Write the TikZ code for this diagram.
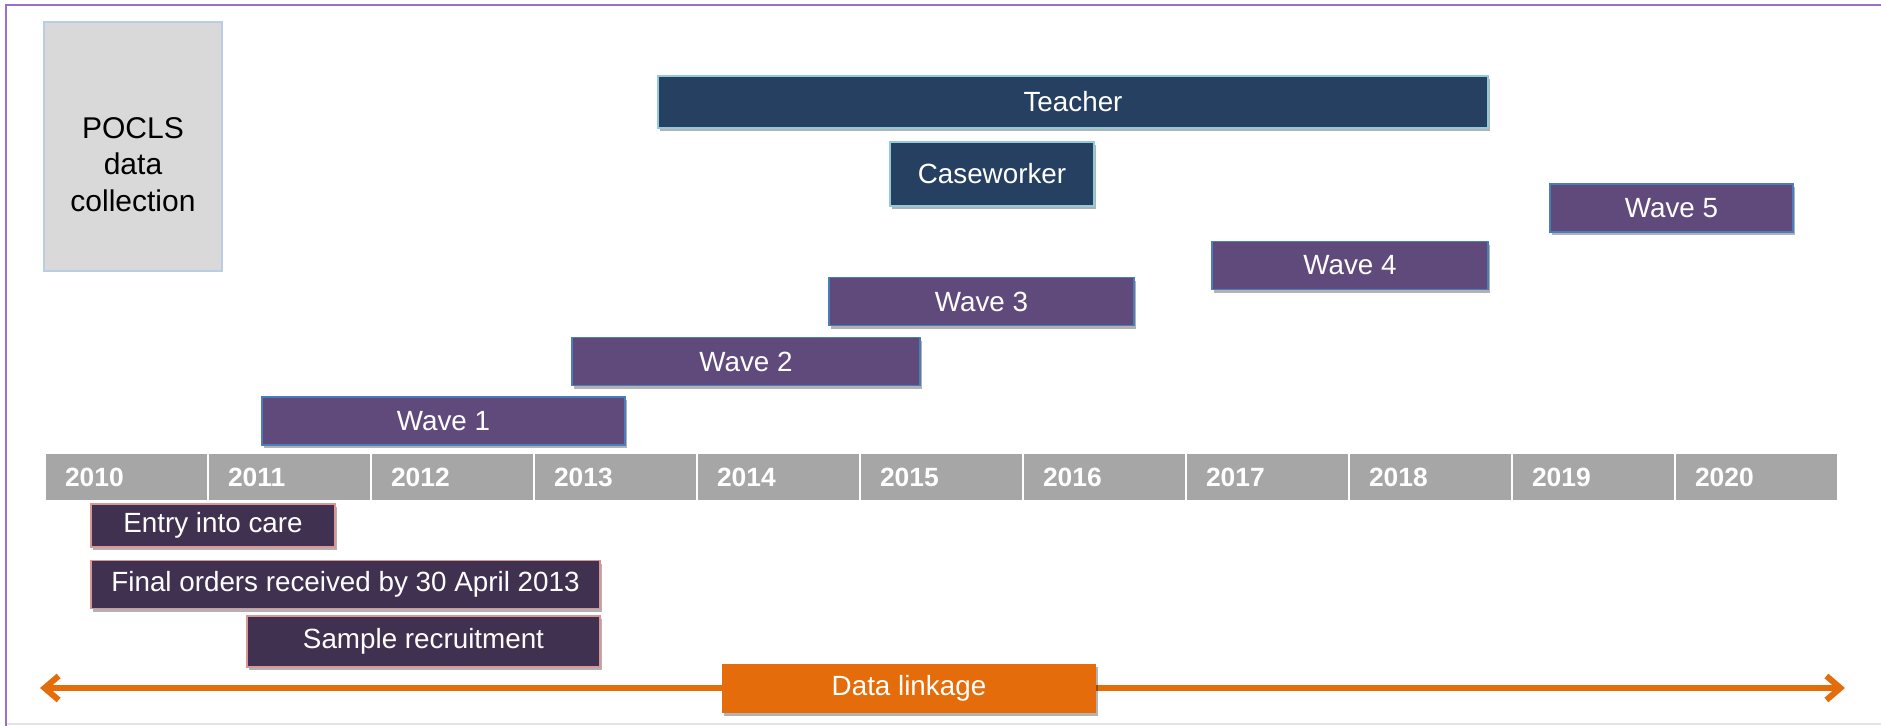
\documentclass[tikz,border=0pt]{standalone}
\usepackage{fontspec}
\setmainfont{Liberation Sans}
\usepackage{tikz}
\usetikzlibrary{positioning, arrows.meta, shadows}

\definecolor{framepurple}{HTML}{9B6FC8}
\definecolor{framelav}{HTML}{E4E2EE}
\definecolor{poclsgrey}{HTML}{D9D9D9}
\definecolor{poclsedge}{HTML}{B9CDE5}
\definecolor{staffnavy}{HTML}{254061}
\definecolor{staffedge}{HTML}{8FCADD}
\definecolor{wavepurple}{HTML}{604A7B}
\definecolor{waveedge}{HTML}{4A7EBB}
\definecolor{yeargrey}{HTML}{A6A6A6}
\definecolor{carepurple}{HTML}{403151}
\definecolor{careedge}{HTML}{D99694}
\definecolor{linkorange}{HTML}{E46C0A}

\begin{document}
\begin{tikzpicture}[
    x=0.5pt, y=-0.5pt,
    boxfont/.style = {font=\fontsize{13.9}{16}\selectfont},
    shade/.style = {drop shadow={shadow xshift=0.8pt, shadow yshift=-1.6pt,
                    fill=black, opacity=0.3}},
    staff/.style = {boxfont, shade, fill=staffnavy, draw=staffedge, line width=0.9pt,
                    text=white, inner sep=0pt, minimum height=#1},
    staff/.default = 26pt,
    wave/.style = {boxfont, shade, fill=wavepurple, draw=waveedge, line width=0.8pt,
                   text=white, inner sep=0pt, minimum height=24pt, minimum width=#1},
    care/.style = {boxfont, shade, fill=carepurple, draw=careedge, line width=0.8pt,
                   text=white, inner sep=0pt},
    yearcell/.style = {font=\bfseries\fontsize{13.2}{16}\selectfont, fill=yeargrey,
                       text=white, minimum height=23pt, inner ysep=0pt, inner xsep=9.5pt,
                       text width=61.5pt, align=left}
    ]
            % styles
            \tikzstyle{linkarrow} = [line width=3pt, draw=linkorange,
                                     {Straight Barb[length=7pt,width=12pt]}-{Straight Barb[length=7pt,width=12pt]}]

            \useasboundingbox (0,0) rectangle (1881,726);
            \draw [framelav, line width=1pt] (6,724) -- (1881,724);
            \draw [framepurple, line width=1pt] (6,726) -- (6,5) -- (1881,5);

            % data collection
            \node (pocls) [fill=poclsgrey, draw=poclsedge, line width=0.7pt,
                           minimum width=89pt, minimum height=124.5pt] at (133,146.5) {};
            \node (poclstext) [align=center, font=\fontsize{15}{18.3}\selectfont]
                  at ([yshift=-9pt]pocls.center) {POCLS\\data\\collection};

            \node (teacher) [staff, minimum width=415pt] at (1073,102) {Teacher};
            \node (caseworker) [staff=32pt, minimum width=102pt] at (992,174) {Caseworker};

            \node (wave5) [wave=121.5pt] at (1671.5,208) {Wave 5};
            \node (wave4) [wave=138pt] at (1350,265.5) {Wave 4};
            \node (wave3) [wave=152.5pt] at (981.5,301.5) {Wave 3};
            \node (wave2) [wave=174pt] at (746,361.5) {Wave 2};
            \node (wave1) [wave=181.5pt] at (443.5,421) {Wave 1};

            % timeline
            \foreach \yr [count=\i from 0] in {2010,...,2020}
                \node (y\yr) [yearcell] at (126.5+163*\i,477) {\yr};

            % sample
            \node (entry) [care, minimum width=122pt, minimum height=21.5pt] at (213,525.5) {Entry into care};
            \node (final) [care, minimum width=254.5pt, minimum height=24pt,
                           below right=6pt and 0pt of entry.south west] {Final orders received by 30 April 2013};
            \node (sample) [care, minimum width=176.5pt, minimum height=25.5pt,
                            below left=3pt and 0pt of final.south east] {Sample recruitment};

            % linkage
            \coordinate (linkstart) at (40,688);
            \coordinate (linkend) at (1845,688);
            \draw [linkarrow] (linkstart) -- (linkend);
            \node (linkage) [boxfont, shade, fill=linkorange, text=white, inner sep=0pt,
                             minimum width=187pt, minimum height=24.5pt] at (909,688.5) {Data linkage};
    \end{tikzpicture}
\end{document}
